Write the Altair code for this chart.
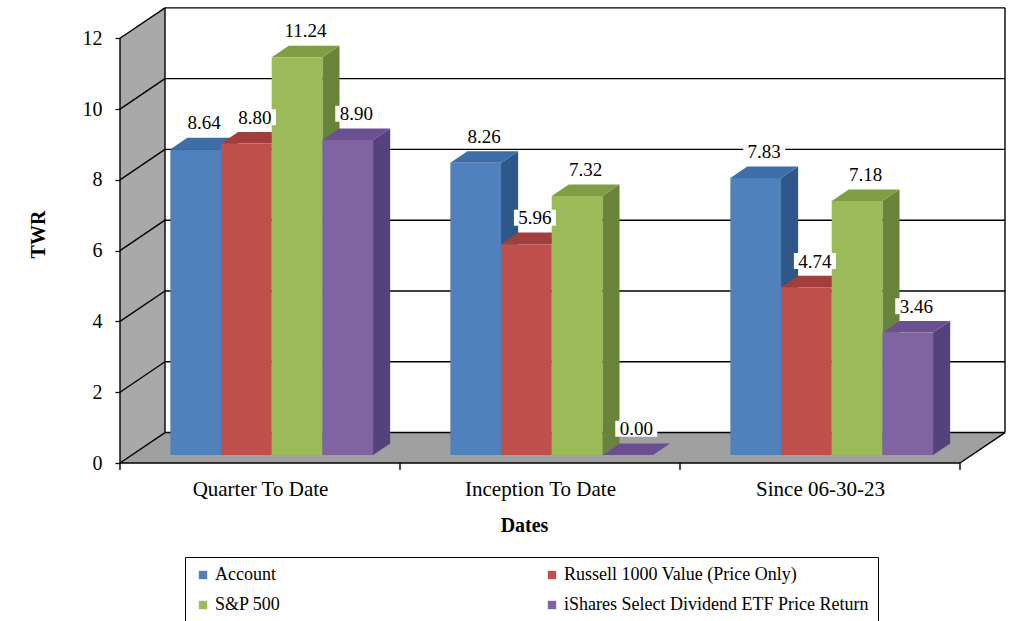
import altair as alt
import pandas as pd

# ---------------- data ----------------
categories = ["Quarter To Date", "Inception To Date", "Since 06-30-23"]
series_names = ["Account", "Russell 1000 Value (Price Only)", "S&P 500",
                "iShares Select Dividend ETF Price Return"]
account = [8.64, 8.26, 7.83]
russell = [8.80, 5.96, 4.74]
sp500 = [11.24, 7.32, 7.18]
ishares = [8.90, 0.00, 3.46]
y_ticks = [0, 2, 4, 6, 8, 10, 12]

front_colors = ["#4F81BD", "#C0504D", "#9BBB59", "#8064A2"]
top_colors = ["#3E6DA7", "#A23F3D", "#7F9E43", "#6A5090"]
side_colors = ["#2F5788", "#87312F", "#67843A", "#55417B"]

# ------------- 3D geometry (in data units) -------------
DX = 45 / 280      # depth offset along x
DY = 0.86          # depth offset along y
F0, F1 = 0.26, 0.64  # depth range of the bars
BW = 0.181         # bar width
X_MAX = 3 + DX
Y_MAX = 12.94
FONT = "Liberation Serif"

values = [account, russell, sp500, ishares]

xs = alt.Scale(domain=[0, X_MAX], nice=False, zero=False)
ys = alt.Scale(domain=[0, Y_MAX], nice=False, zero=False)

label_expr = " : ".join(
    [f"datum.value < {i + 1} ? '{c}'" for i, c in enumerate(categories[:-1])]
) + f" : '{categories[-1]}'"

xaxis = alt.Axis(values=[i + 0.5 for i in range(len(categories))], labelExpr=label_expr,
                 ticks=False, domain=False, grid=False, labelPadding=15,
                 labelFont=FONT, labelFontSize=21, labelColor="black",
                 title="Dates", titleFont=FONT, titleFontSize=20, titleFontWeight="bold",
                 titleColor="black", titlePadding=16, titleX=404, titleAlign="center")
yaxis = alt.Axis(values=y_ticks, domain=False, grid=False, tickSize=5, tickColor="black",
                 tickWidth=1.3, labelPadding=13, labelFont=FONT, labelFontSize=20,
                 labelColor="black", title="TWR", titleFont=FONT, titleFontSize=20,
                 titleFontWeight="bold", titleColor="black", titleX=-82, titleY=229,
                 titleAlign="center", titleBaseline="middle", titleAngle=-90)


def X(f):
    return alt.X(f, type="quantitative", scale=xs, axis=xaxis, title="Dates", stack=None)


def Y(f):
    return alt.Y(f, type="quantitative", scale=ys, axis=yaxis, title="TWR", stack=None)


# ------------- bar faces -------------
front_rows, top_rows, side_rows, label_rows = [], [], [], []
pid = 0
for ci, cat in enumerate(categories):
    for si, name in enumerate(series_names):
        v = values[si][ci]
        xc = ci + 0.5 + F0 * DX + (si - 1.5) * BW
        x0, x1 = xc - BW / 2, xc + BW / 2
        sx = (F1 - F0) * DX
        front_rows.append(dict(series=name, x=x0, x2=x1, y=F0 * DY, y2=v + F0 * DY))
        top_rows.append(dict(pid=pid, fill=top_colors[si], y=v + F0 * DY, x=x0, x2=x1))
        top_rows.append(dict(pid=pid, fill=top_colors[si], y=v + F1 * DY, x=x0 + sx, x2=x1 + sx))
        side_rows.append(dict(pid=pid, fill=side_colors[si], x=x1, y=F0 * DY, y2=v + F0 * DY))
        side_rows.append(dict(pid=pid, fill=side_colors[si], x=x1 + sx, y=F1 * DY, y2=v + F1 * DY))
        label_rows.append(dict(x=xc + sx / 2, y=v + (F0 + F1) / 2 * DY, text=f"{v:.2f}"))
        pid += 1

front_df = pd.DataFrame(front_rows)
top_df = pd.DataFrame(top_rows)
side_df = pd.DataFrame(side_rows)
label_df = pd.DataFrame(label_rows)

# ------------- walls and lines -------------
left_wall = pd.DataFrame(dict(x=[0, DX], y=[0, DY], y2=[12, 12 + DY]))
floor = pd.DataFrame(dict(y=[0, DY], x=[0, DX], x2=[3, 3 + DX]))

line_rows = []
for v in y_ticks:
    line_rows.append(dict(x=0, x2=DX, y=v, y2=v + DY))
    line_rows.append(dict(x=DX, x2=3 + DX, y=v + DY, y2=v + DY))
line_rows += [
    dict(x=DX, x2=DX, y=DY, y2=12 + DY),
    dict(x=3 + DX, x2=3 + DX, y=DY, y2=12 + DY),
    dict(x=3, x2=3 + DX, y=0, y2=DY),
    dict(x=0, x2=0, y=0, y2=12),
    dict(x=0, x2=3, y=0, y2=0),
]
for i in range(len(categories) + 1):
    line_rows.append(dict(x=i, x2=i, y=0, y2=-0.2))
lines_df = pd.DataFrame(line_rows)

wall_layer = alt.Chart(left_wall).mark_area(color="#A9A9A9").encode(
    x=X("x"), y=Y("y"), y2="y2")
floor_layer = alt.Chart(floor).mark_area(color="#A0A0A0", orient="horizontal").encode(
    y=Y("y"), x=X("x"), x2="x2")
lines_layer = alt.Chart(lines_df).mark_rule(color="black", strokeWidth=1.4, clip=False).encode(
    x=X("x"), x2="x2", y=Y("y"), y2="y2")

side_layer = alt.Chart(side_df).mark_area().encode(
    x=X("x"), y=Y("y"), y2="y2", detail="pid:N",
    color=alt.Color("fill:N", scale=None))
top_layer = alt.Chart(top_df).mark_area(orient="horizontal").encode(
    y=Y("y"), x=X("x"), x2="x2", detail="pid:N",
    color=alt.Color("fill:N", scale=None))
front_layer = alt.Chart(front_df).mark_rect().encode(
    x=X("x"), x2="x2", y=Y("y"), y2="y2",
    color=alt.Color("series:N", sort=series_names,
                    scale=alt.Scale(domain=series_names, range=front_colors),
                    legend=alt.Legend(orient="none", legendX=65, legendY=552, columns=2,
                                      direction="horizontal",
                                      title=None, strokeColor="black", padding=9,
                                      symbolType="square", symbolSize=70,
                                      symbolStrokeWidth=0, labelFont=FONT,
                                      labelFontSize=18, labelColor="black",
                                      labelOffset=3, columnPadding=262, rowPadding=12,
                                      labelLimit=400)))
label_bg_layer = alt.Chart(label_df).mark_rect(
    color="white", width=42, height=16, yOffset=-20.5
).encode(x=X("x"), y=Y("y"))
label_layer = alt.Chart(label_df).mark_text(
    font=FONT, fontSize=19, color="black", align="center", baseline="alphabetic", dy=-14
).encode(x=X("x"), y=Y("y"), text="text:N")

chart = alt.layer(
    wall_layer, floor_layer, lines_layer, side_layer, top_layer, front_layer,
    label_bg_layer, label_layer
).properties(
    width=885, height=458,
    autosize=alt.AutoSizeParams(type="none"),
    padding={"left": 120, "top": 5, "right": 6, "bottom": 158},
    background="white",
).configure_view(stroke=None)

chart.save("out.html", embed_options={"renderer": "svg", "actions": False})
